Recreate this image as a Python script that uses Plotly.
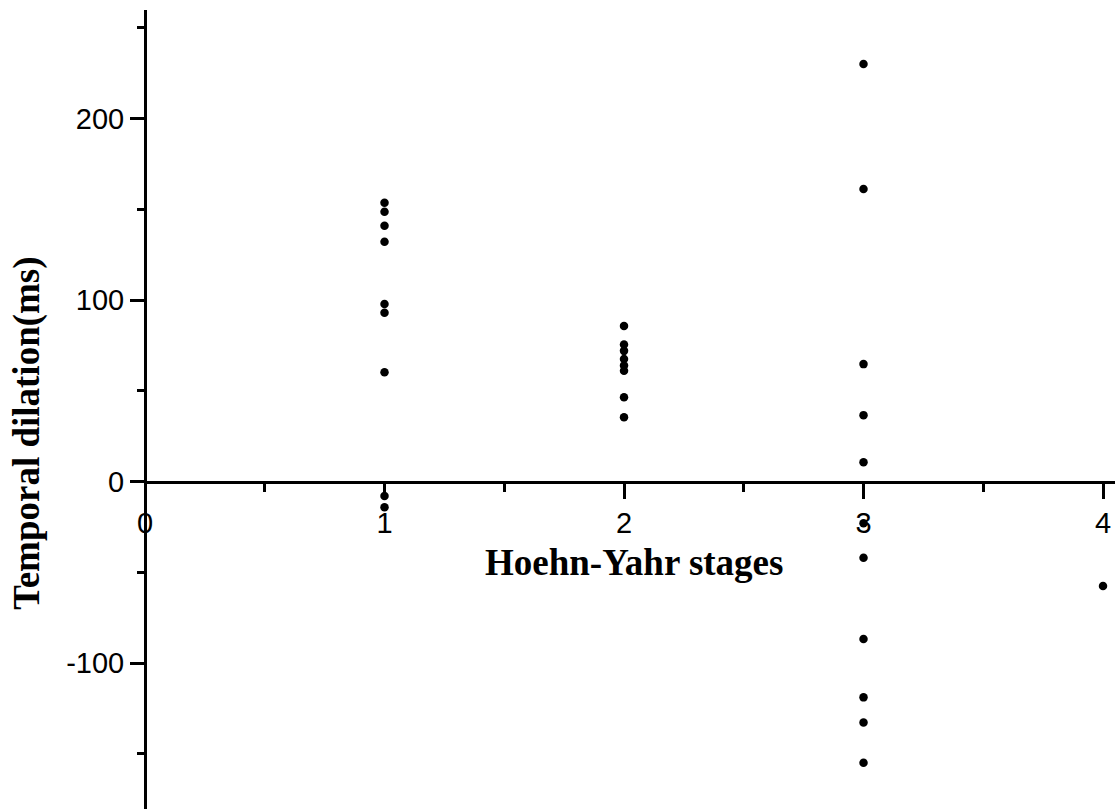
import plotly.graph_objects as go

# Data
stage1 = [153.6, 148.6, 140.9, 132.1, 97.8, 93.0, 60.2, -8.0, -14.2]
stage2 = [85.7, 75.5, 72.0, 67.5, 64.0, 61.0, 46.4, 35.4]
stage3 = [230.0, 161.2, 64.7, 36.6, 10.6, -23.0, -42.0, -86.8, -118.9, -132.7, -154.9]
stage4 = [-57.6]

x_tickvals = [0, 1, 2, 3, 4]
x_ticktext = ["0", "1", "2", "3", "4"]
y_tickvals = [-100, 0, 100, 200]
y_ticktext = ["-100", "0", "100", "200"]

x_title = "Hoehn-Yahr stages"
y_title = "Temporal dilation(ms)"

xs, ys = [], []
for stage, vals in zip([1, 2, 3, 4], [stage1, stage2, stage3, stage4]):
    xs += [stage] * len(vals)
    ys += vals

x_range = [0, 4.05]
y_range = [-180.4, 259.8]

fig = go.Figure()
fig.add_trace(go.Scatter(
    x=xs, y=ys, mode="markers",
    marker=dict(color="black", size=8.5, line=dict(width=0)),
    showlegend=False, cliponaxis=False,
))

tick_font = dict(family="Liberation Sans, Arial, sans-serif", size=29, color="black")
title_font = dict(family="Liberation Serif, Times New Roman, serif", size=37, color="black")

fig.update_layout(
    width=1115, height=809,
    margin=dict(l=145, r=0, t=10, b=0),
    paper_bgcolor="white", plot_bgcolor="white",
    xaxis=dict(
        range=x_range, anchor="free",
        position=(0 - y_range[0]) / (y_range[1] - y_range[0]),
        showline=True, linecolor="black", linewidth=3,
        showgrid=False, zeroline=False,
        tickmode="array", tickvals=x_tickvals, ticktext=x_ticktext,
        ticks="outside", ticklen=15, tickwidth=3, tickcolor="black",
        minor=dict(tick0=0.5, dtick=1, ticks="outside", ticklen=8,
                   tickwidth=3, tickcolor="black", showgrid=False),
        tickfont=tick_font,
    ),
    yaxis=dict(
        range=y_range, anchor="free", position=0,
        showline=True, linecolor="black", linewidth=3,
        showgrid=False, zeroline=False,
        tickmode="array", tickvals=y_tickvals, ticktext=y_ticktext,
        ticks="outside", ticklen=14, tickwidth=3, tickcolor="black",
        minor=dict(tick0=50, dtick=100, ticks="outside", ticklen=7,
                   tickwidth=3, tickcolor="black", showgrid=False),
        tickfont=tick_font,
    ),
    annotations=[
        dict(text="<b>%s</b>" % x_title, x=2.04, y=-44.4, xref="x", yref="y",
             xanchor="center", yanchor="middle", showarrow=False, font=title_font),
        dict(text="<b>%s</b>" % y_title, x=-0.122, y=0.4706, xref="paper", yref="paper",
             xanchor="center", yanchor="middle", textangle=-90, showarrow=False,
             font=title_font),
    ],
)

fig.write_html(
    "out.html",
    config={"displayModeBar": False},
    post_script="document.body.style.margin='0';document.body.style.overflow='hidden';",
)
